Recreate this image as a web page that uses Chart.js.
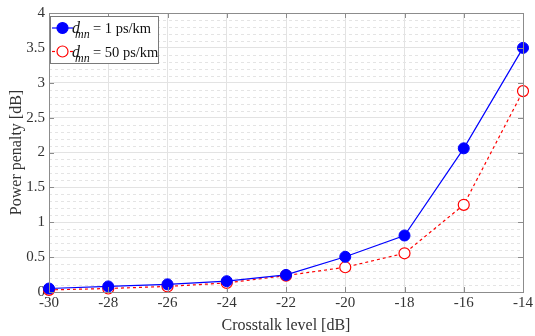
<!DOCTYPE html>
<html>
<head>
<meta charset="utf-8">
<script src="https://cdn.jsdelivr.net/npm/chart.js@4/dist/chart.umd.min.js"></script>
<style>
  html, body { margin: 0; padding: 0; background: #fff; }
  #wrap { width: 535px; height: 336px; }
</style>
</head>
<body>
<div id="wrap"><canvas id="c" width="535" height="336"></canvas></div>
<script>
// Crosstalk level (dB) on the x axis
const crosstalk = [-30, -28, -26, -24, -22, -20, -18, -16, -14];
// Power penalty (dB) for each dispersion value
const penalty1ps = [0.05, 0.08, 0.11, 0.155, 0.245, 0.505, 0.81, 2.06, 3.5];
const penalty50ps = [0.03, 0.05, 0.08, 0.13, 0.235, 0.355, 0.555, 1.25, 2.88];
// Legend text: symbol, subscript and value part
const legendSymbol = 'd';
const legendSub = 'mn';
const seriesLabels = ['= 1 ps/km', '= 50 ps/km'];
const xTitle = 'Crosstalk level [dB]';
const yTitle = 'Power penalty [dB]';

const SERIF = '"Liberation Serif", "Times New Roman", serif';
const TXT = '#333333';
const AXIS = '#8c8c8c';

function pts(ys) { return crosstalk.map((x, i) => ({ x, y: ys[i] })); }
function isMajorY(v) { return Math.abs(v * 2 - Math.round(v * 2)) < 1e-6; }

// Dashed minor grid, box frame and inward tick marks
const framePlugin = {
  id: 'frame',
  beforeDatasetsDraw(chart) {
    const { ctx, chartArea: a, scales: { y } } = chart;
    ctx.save();
    ctx.strokeStyle = '#e4e4e4';
    ctx.lineWidth = 1;
    ctx.setLineDash([3, 3]);
    y.ticks.forEach(t => {
      if (isMajorY(t.value)) return;
      const py = Math.round(y.getPixelForValue(t.value)) + 0.5;
      ctx.beginPath(); ctx.moveTo(a.left, py); ctx.lineTo(a.right, py); ctx.stroke();
    });
    ctx.restore();
  },
  afterDraw(chart) {
    const { ctx, chartArea: a, scales: { x, y } } = chart;
    ctx.save();
    ctx.strokeStyle = AXIS;
    ctx.lineWidth = 1;
    ctx.strokeRect(Math.round(a.left) + 0.5, Math.round(a.top) + 0.5,
      Math.round(a.right - a.left), Math.round(a.bottom - a.top));
    const L = 5;
    ctx.beginPath();
    x.ticks.forEach(t => {
      const px = Math.round(x.getPixelForValue(t.value)) + 0.5;
      ctx.moveTo(px, a.bottom); ctx.lineTo(px, a.bottom - L);
      ctx.moveTo(px, a.top); ctx.lineTo(px, a.top + L);
    });
    y.ticks.forEach(t => {
      if (!isMajorY(t.value)) return;
      const py = Math.round(y.getPixelForValue(t.value)) + 0.5;
      ctx.moveTo(a.left, py); ctx.lineTo(a.left + L, py);
      ctx.moveTo(a.right, py); ctx.lineTo(a.right - L, py);
    });
    ctx.stroke();
    ctx.restore();
    drawLegend(chart);
  }
};

function drawLegend(chart) {
  const { ctx, chartArea: a } = chart;
  const bx = a.left + 1, by = a.top + 3, bw = 108, bh = 47;
  ctx.save();
  ctx.fillStyle = '#fff';
  ctx.fillRect(bx, by, bw, bh);
  ctx.strokeStyle = '#7a7a7a';
  ctx.lineWidth = 1;
  ctx.strokeRect(Math.round(bx) + 0.5, Math.round(by) + 0.5, bw, bh);
  chart.data.datasets.forEach((ds, i) => {
    const cy = by + 12 + i * 23.5;
    const mx = bx + 12.5;
    ctx.strokeStyle = ds.borderColor;
    ctx.lineWidth = 1.2;
    ctx.setLineDash(ds.borderDash || []);
    ctx.beginPath(); ctx.moveTo(bx + 2, cy); ctx.lineTo(bx + 23, cy); ctx.stroke();
    ctx.setLineDash([]);
    ctx.beginPath(); ctx.arc(mx, cy, 5.5, 0, Math.PI * 2);
    ctx.fillStyle = ds.pointBackgroundColor;
    ctx.fill();
    ctx.stroke();
    // label: italic symbol, subscript, value text
    ctx.fillStyle = '#111';
    ctx.textBaseline = 'alphabetic';
    ctx.textAlign = 'left';
    const base = cy + 5;
    ctx.font = 'italic 16px ' + SERIF;
    ctx.fillText(legendSymbol, bx + 22, base);
    ctx.font = 'italic 12px ' + SERIF;
    ctx.fillText(legendSub, bx + 25, base + 5);
    ctx.font = '14.5px ' + SERIF;
    ctx.fillText(seriesLabels[i], bx + 43, base);
  });
  ctx.restore();
}

new Chart(document.getElementById('c'), {
  type: 'line',
  data: {
    datasets: [
      {
        label: seriesLabels[0],
        data: pts(penalty1ps),
        borderColor: '#0000ff',
        backgroundColor: '#0000ff',
        pointBackgroundColor: '#0000ff',
        pointBorderColor: '#0000ff',
        pointRadius: 5.5,
        pointBorderWidth: 1,
        borderWidth: 1.2,
        tension: 0,
        clip: false
      },
      {
        label: seriesLabels[1],
        data: pts(penalty50ps),
        borderColor: '#ff0000',
        backgroundColor: '#ff0000',
        pointBackgroundColor: '#ffffff',
        pointBorderColor: '#ff0000',
        pointRadius: 5.5,
        pointBorderWidth: 1.2,
        borderWidth: 1.2,
        borderDash: [3, 3],
        tension: 0,
        clip: false
      }
    ]
  },
  options: {
    responsive: false,
    animation: false,
    devicePixelRatio: 1,
    layout: { padding: { top: 13, right: 8, left: 0, bottom: 0 } },
    plugins: { legend: { display: false }, tooltip: { enabled: false } },
    scales: {
      x: {
        type: 'linear',
        min: -30, max: -14,
        afterFit(s) { s.height = 44; },
        ticks: {
          stepSize: 2,
          color: TXT,
          padding: 2,
          font: { family: SERIF, size: 15 },
          callback: v => String(v)
        },
        grid: { color: '#e3e3e3', drawTicks: false },
        border: { color: AXIS },
        title: {
          display: true, text: xTitle, color: TXT,
          font: { family: SERIF, size: 16 },
          padding: { top: 1, bottom: 1 }
        }
      },
      y: {
        type: 'linear',
        min: 0, max: 4,
        afterFit(s) { s.width = 49; },
        ticks: {
          stepSize: 0.1,
          autoSkip: false,
          color: TXT,
          padding: 4,
          font: { family: SERIF, size: 15 },
          callback: v => isMajorY(v) ? String(Math.round(v * 2) / 2) : ''
        },
        grid: {
          drawTicks: false,
          color: c => (c.tick && isMajorY(c.tick.value)) ? '#e3e3e3' : 'rgba(0,0,0,0)'
        },
        border: { color: AXIS },
        title: {
          display: true, text: yTitle, color: TXT,
          font: { family: SERIF, size: 16 },
          padding: { top: 7, bottom: 0 }
        }
      }
    }
  },
  plugins: [framePlugin]
});
</script>
</body>
</html>
